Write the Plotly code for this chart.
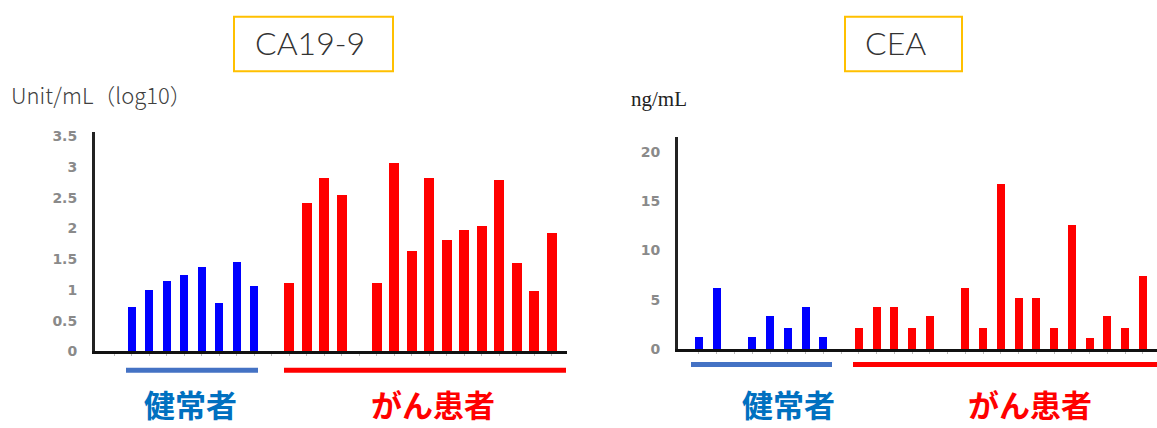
import plotly.graph_objects as go

W, H = 1157, 428

# ---------------- data ----------------
# CA19-9 (Unit/mL, log10)
ca_healthy_ids = [0, 1, 2, 3, 4, 5, 6, 7]
ca_healthy = [0.73, 1.00, 1.14, 1.25, 1.38, 0.79, 1.45, 1.07]
ca_cancer_ids = [9, 10, 11, 12, 14, 15, 16, 17, 18, 19, 20, 21, 22, 23, 24]
ca_cancer = [1.11, 2.42, 2.82, 2.55, 1.11, 3.07, 1.63, 2.82, 1.82, 1.98, 2.04, 2.79, 1.44, 0.98, 1.92]
ca_ticks = [0, 0.5, 1, 1.5, 2, 2.5, 3, 3.5]
ca_ticklabels = ["0", "0.5", "1", "1.5", "2", "2.5", "3", "3.5"]

# CEA (ng/mL)
cea_healthy_ids = [0, 1, 3, 4, 5, 6, 7]
cea_healthy = [1.2, 6.2, 1.2, 3.3, 2.1, 4.25, 1.2]
cea_cancer_ids = [9, 10, 11, 12, 13, 15, 16, 17, 18, 19, 20, 21, 22, 23, 24, 25]
cea_cancer = [2.1, 4.25, 4.25, 2.1, 3.3, 6.15, 2.1, 16.8, 5.15, 5.15, 2.1, 12.6, 1.1, 3.3, 2.1, 7.4]
cea_ticks = [0, 5, 10, 15, 20]
cea_ticklabels = ["0", "5", "10", "15", "20"]

titles = ["CA19-9", "CEA"]
units = ["Unit/mL（log10）", "ng/mL"]
group_labels = ["健常者", "がん患者"]

BLUE = "#0000FF"
RED = "#FF0000"


def px(x):
    return x / W


def py(y):
    return 1 - y / H


fig = go.Figure()
fig.add_trace(go.Bar(x=ca_healthy_ids, y=ca_healthy, width=0.46, marker_color=BLUE,
                     marker_line_width=0, xaxis="x", yaxis="y"))
fig.add_trace(go.Bar(x=ca_cancer_ids, y=ca_cancer, width=0.57, marker_color=RED,
                     marker_line_width=0, xaxis="x", yaxis="y"))
fig.add_trace(go.Bar(x=cea_healthy_ids, y=cea_healthy, width=0.45, marker_color=BLUE,
                     marker_line_width=0, xaxis="x2", yaxis="y2"))
fig.add_trace(go.Bar(x=cea_cancer_ids, y=cea_cancer, width=0.45, marker_color=RED,
                     marker_line_width=0, xaxis="x2", yaxis="y2"))

tickfont = dict(family="DejaVu Sans", size=14, color="#8a8a8a", weight="bold")

xcommon = dict(showgrid=False, zeroline=False, showline=True, linewidth=3, linecolor="#111111",
               ticks="outside", ticklen=2, tickwidth=1, tickcolor="#bbbbbb",
               showticklabels=False, fixedrange=True)
ycommon = dict(showgrid=False, zeroline=False, showline=True, linewidth=3, linecolor="#222222",
               ticks="", tickfont=tickfont, ticklabelstandoff=12, fixedrange=True)

fig.update_layout(
    width=W, height=H, autosize=False,
    margin=dict(l=0, r=0, t=0, b=0),
    paper_bgcolor="white", plot_bgcolor="white",
    showlegend=False, bargap=0, hovermode=False,
    xaxis=dict(**xcommon, domain=[px(95), px(567)], range=[-2.11, 24.86],
               tickvals=list(range(-1, 25)), anchor="y"),
    yaxis=dict(**ycommon, domain=[py(357.5), py(132)], range=[0, 3.58],
               tickvals=ca_ticks, ticktext=ca_ticklabels, anchor="x"),
    xaxis2=dict(**xcommon, domain=[px(678), 1.0], range=[-1.18, 25.79],
                tickvals=list(range(0, 26)), anchor="y2"),
    yaxis2=dict(**ycommon, domain=[py(355), py(138)], range=[0, 21.5],
                tickvals=cea_ticks, ticktext=cea_ticklabels, anchor="x2"),
)

shapes = []
annotations = []

# title boxes
title_boxes = [(234, 14, 393, 70, 253), (845, 14, 962, 70, 863)]
for (x0, y0, x1, y1, tx), t in zip(title_boxes, titles):
    shapes.append(dict(type="rect", xref="paper", yref="paper", x0=px(x0), x1=px(x1),
                       y0=py(y0), y1=py(y1), line=dict(color="#FFC000", width=2)))
    annotations.append(dict(xref="paper", yref="paper", x=px(tx), y=py(41), xanchor="left",
                            yanchor="middle", text=t, showarrow=False,
                            font=dict(family="Lato", size=32, color="#333333", weight=300)))

# unit labels
annotations.append(dict(xref="paper", yref="paper", x=px(9), y=py(93), xanchor="left",
                        yanchor="middle", text=units[0], showarrow=False,
                        font=dict(family="Noto Sans CJK JP", size=22, color="#404040", weight=300)))
annotations.append(dict(xref="paper", yref="paper", x=px(629), y=py(99), xanchor="left",
                        yanchor="middle", text=units[1], showarrow=False,
                        font=dict(family="Liberation Serif", size=21, color="#222222")))

# group underlines and labels
lines = [
    (126, 258, 377, "#4472C4"), (284, 566, 377, RED),
    (691, 832, 371, "#4472C4"), (853, 1157, 371, RED),
]
for x0, x1, y, c in lines:
    shapes.append(dict(type="line", xref="paper", yref="paper", x0=px(x0), x1=px(x1),
                       y0=py(y), y1=py(y), line=dict(color=c, width=5)))

label_pos = [(190, "#0070C0", 0), (433, RED, 1), (788, "#0070C0", 0), (1030, RED, 1)]
for x, c, i in label_pos:
    annotations.append(dict(xref="paper", yref="paper", x=px(x), y=py(411), xanchor="center",
                            yanchor="middle", text=group_labels[i], showarrow=False,
                            font=dict(family="Noto Sans CJK JP", size=31, color=c, weight="bold")))

fig.update_layout(shapes=shapes, annotations=annotations)
fig.write_html("out.html", config={"displayModeBar": False, "staticPlot": True},
               post_script="document.body.style.margin='0';document.body.style.overflow='hidden';")
